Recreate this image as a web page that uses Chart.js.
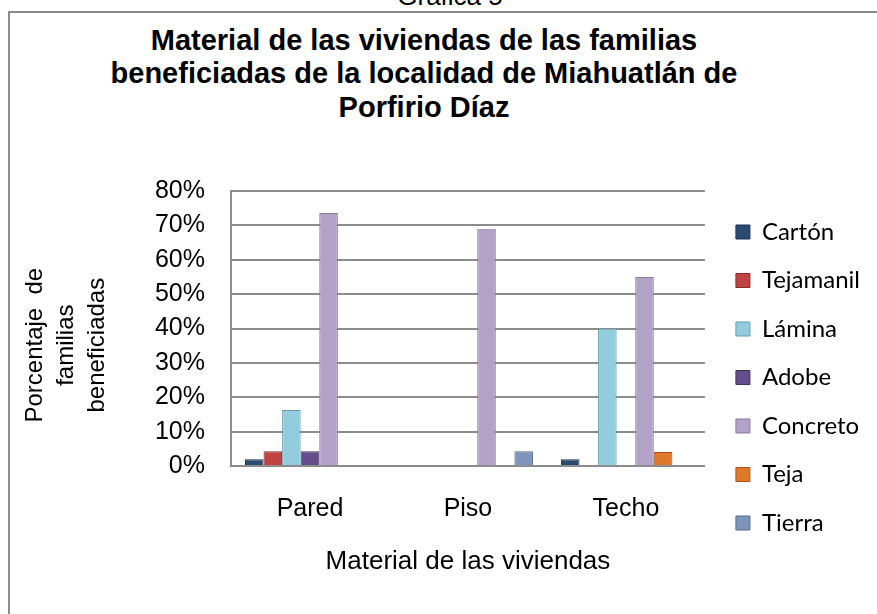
<!DOCTYPE html>
<html>
<head>
<meta charset="utf-8">
<script src="https://cdn.jsdelivr.net/npm/chart.js@4"></script>
<style>
  html,body{margin:0;padding:0;background:#fff;overflow:hidden;}
  #frame{position:absolute;left:8px;top:11px;width:900px;height:700px;border:2px solid #8c8c8c;box-sizing:border-box;}
  #caption{position:absolute;left:0;width:900px;top:-17px;text-align:center;font:26px/26px "Liberation Sans",Arial,sans-serif;color:#000;}
  #title{position:absolute;left:0;width:848px;top:23.6px;text-align:center;font:bold 29px/33.5px "Liberation Sans",Arial,sans-serif;color:#000;}
  #wrap{position:absolute;left:0;top:0;width:877px;height:614px;}
</style>
</head>
<body>
<div id="caption">Gráfica 5</div>
<div id="frame"></div>
<div id="title">Material de las viviendas de las familias<br>beneficiadas de la localidad de Miahuatlán de<br>Porfirio Díaz</div>
<div id="wrap"><canvas id="ch"></canvas></div>
<script>
const categories = ['Pared', 'Piso', 'Techo'];

const carton    = [2, null, 2];
const tejamanil = [4.3, null, null];
const lamina    = [16.3, null, 40];
const adobe     = [4.3, null, null];
const concreto  = [73.6, 69, 55];
const teja      = [null, null, 4.1];
const tierra    = [null, 4.3, null];

const yTicks = [0, 10, 20, 30, 40, 50, 60, 70, 80];

const series = [
  { label:'Cartón',    data:carton,    bg:'#2b4b73', bd:'#1b3150' },
  { label:'Tejamanil', data:tejamanil, bg:'#bf4340', bd:'#8a2a28' },
  { label:'Lámina',    data:lamina,    bg:'#93cddd', bd:'#5f9fb2' },
  { label:'Adobe',     data:adobe,     bg:'#654c8a', bd:'#45315f' },
  { label:'Concreto',  data:concreto,  bg:'#b3a2c7', bd:'#8a7aa0' },
  { label:'Teja',      data:teja,      bg:'#e0782a', bd:'#a9531a' },
  { label:'Tierra',    data:tierra,    bg:'#7d95b8', bd:'#56698a' }
];

const grey = '#8c8c8c';
const arial = '"Liberation Sans", Arial, sans-serif';

new Chart(document.getElementById('ch'), {
  type:'bar',
  data:{
    labels:categories,
    datasets:series.map(s => ({
      label:s.label, data:s.data,
      backgroundColor:s.bg, borderColor:s.bd, borderWidth:1,
      categoryPercentage:0.823, barPercentage:1
    }))
  },
  options:{
    responsive:true, maintainAspectRatio:false, animation:false,
    layout:{ padding:{ top:191, left:10, right:7, bottom:0 } },
    plugins:{
      title:{ display:false },
      legend:{
        position:'right', align:'start', maxWidth:220,
        title:{ display:true, text:' ', padding:0, font:{ size:4.5, lineHeight:1 } },
        labels:{
          color:'#000', boxWidth:14, boxHeight:14, padding:24.5,
          font:{ family:'Lato, "Open Sans", sans-serif', size:24, lineHeight:1 }
        }
      },
      tooltip:{ enabled:false }
    },
    scales:{
      x:{
        grid:{ display:false },
        border:{ display:true, color:grey, width:2 },
        ticks:{ color:'#000', padding:20, font:{ family:arial, size:25, lineHeight:1.2 } },
        title:{
          display:true, text:'Material de las viviendas', color:'#000',
          font:{ family:arial, size:26, lineHeight:1.2 },
          padding:{ top:0, bottom:36.4 }
        },
        afterFit(s){ s.height = 148; }
      },
      y:{
        min:0, max:80,
        afterBuildTicks(s){ s.ticks = yTicks.map(v => ({ value:v })); },
        grid:{ color:grey, lineWidth:2, drawTicks:false },
        border:{ display:true, color:grey, width:2 },
        ticks:{
          color:'#000', padding:26, autoSkip:false,
          font:{ family:arial, size:25 },
          callback:v => v + '%'
        },
        title:{
          display:true,
          text:['Porcentaje  de     ','familias     ','beneficiadas     '],
          color:'#000',
          font:{ family:arial, size:24, lineHeight:1.2917 },
          padding:{ top:9.5, bottom:44.5 }
        },
        afterFit(s){ s.width = 221; }
      },
      yR:{
        position:'right', display:true,
        grid:{ display:false }, border:{ display:false }, ticks:{ display:false },
        afterFit(s){ s.width = 6.5; }
      }
    }
  }
});
</script>
</body>
</html>
